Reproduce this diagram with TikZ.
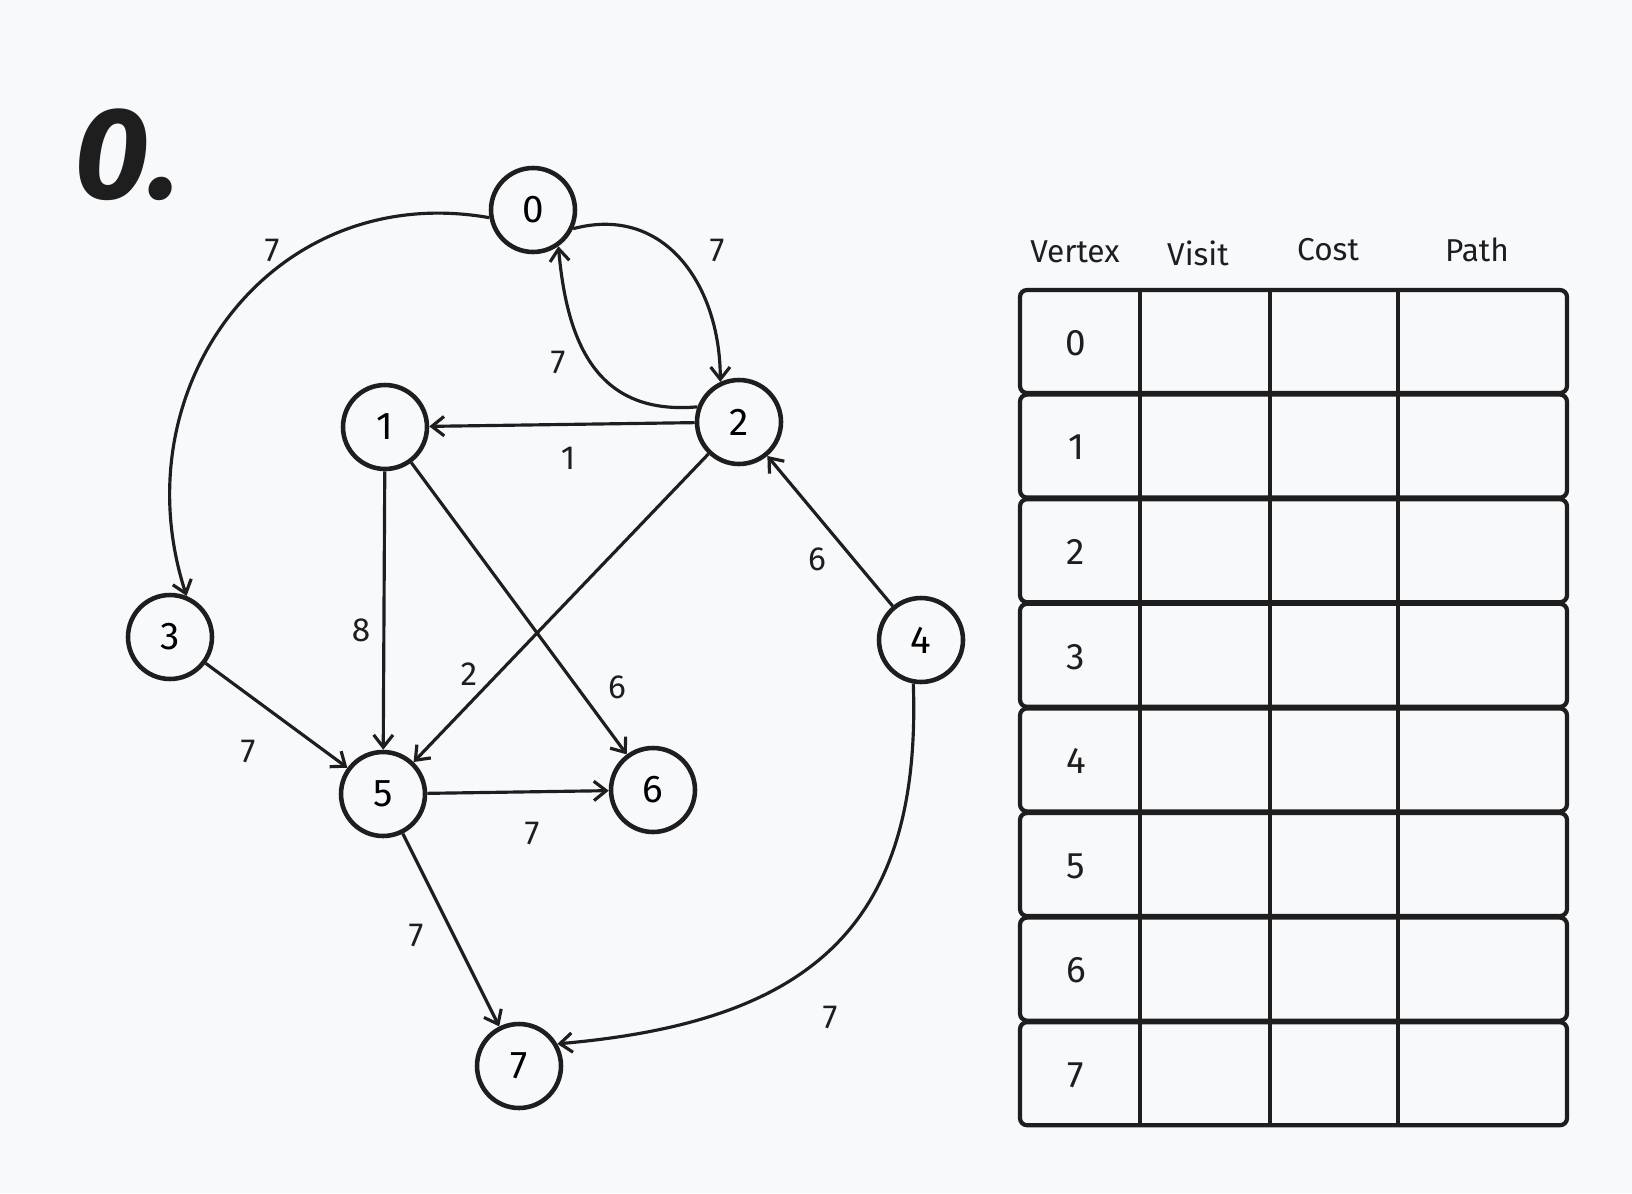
\documentclass[tikz,border=0pt]{standalone}
\usepackage{fontspec}
\setmainfont{Fira Sans}
\usetikzlibrary{arrows.meta, positioning}

\definecolor{inkc}{HTML}{1E1E1E}
\definecolor{paperc}{HTML}{F8F9FB}

\tikzset{
  vertex/.style={circle, draw=inkc, line width=2.6pt, minimum size=1.68cm, inner sep=0pt, font=\fontsize{22}{22}\selectfont},
  edge/.style={draw=inkc, line width=1.8pt, -{Straight Barb[length=7pt, width=11pt, line width=1.8pt]}},
  weight/.style={text=inkc, font=\fontsize{19}{19}\selectfont},
  heading/.style={text=inkc, font=\fontsize{18}{18}\selectfont},
  rowbox/.style={draw=inkc, line width=2.4pt, rounded corners=4pt},
  celltext/.style={text=inkc, font=\fontsize{21}{21}\selectfont}
}

\begin{document}
\begin{tikzpicture}[x=0.02cm, y=-0.02cm]
    % page
    \fill[paperc] (0,0) rectangle (1632,1193);
    \useasboundingbox (0,0) rectangle (1632,1193);

    % title
    \node[text=inkc, font=\fontsize{74}{74}\selectfont\bfseries\itshape] (title) at (127,155) {0.};

    % vertices
    \node[vertex] (n0) at (533,210) {0};
    \node[vertex] (n1) at (385,427) {1};
    \node[vertex] (n2) at (739,422) {2};
    \node[vertex] (n3) at (170,637) {3};
    \node[vertex] (n4) at (921,640) {4};
    \node[vertex] (n5) at (383,794) {5};
    \node[vertex] (n6) at (653,790) {6};
    \node[vertex] (n7) at (519,1066) {7};

    % curved edges
    \draw[edge] (n0.190) to[out=170, in=108, looseness=1.16] (n3.68);
    \draw[edge] (n0.-25) to[out=15, in=90, looseness=1.15] (n2.115);
    \draw[edge] (n2.160) to[out=185, in=-85, looseness=1.2] (n0.-55);
    \draw[edge] (n4.-100) to[out=-88, in=5, looseness=1.25] (n7.30);

    % straight edges
    \draw[edge] (n2) -- (n1);
    \draw[edge] (n1) -- (n5);
    \draw[edge] (n1) -- (n6);
    \draw[edge] (n2) -- (n5);
    \draw[edge] (n4) -- (n2);
    \draw[edge] (n3) -- (n5);
    \draw[edge] (n5) -- (n6);
    \draw[edge] (n5) -- (n7);

    % weights
    \node[weight] (w03) at (272,250) {7};
    \node[weight] (w02) at (717,250) {7};
    \node[weight] (w20) at (558,362) {7};
    \node[weight] (w21) at (568,458) {1};
    \node[weight] (w15) at (361,630) {8};
    \node[weight] (w16) at (617,687) {6};
    \node[weight] (w25) at (469,674) {2};
    \node[weight] (w42) at (817,559) {6};
    \node[weight] (w35) at (248,751) {7};
    \node[weight] (w56) at (532,833) {7};
    \node[weight] (w57) at (416,935) {7};
    \node[weight] (w47) at (830,1017) {7};

    % table header
    \node[heading] (hvertex) at (1075,252) {Vertex};
    \node[heading] (hvisit) at (1198,253) {Visit};
    \node[heading] (hcost) at (1328,250) {Cost};
    \node[heading] (hpath) at (1477,250) {Path};

    % table rows
    \foreach \i in {0,...,7} {
      \draw[rowbox] (1020,{290+104.6*\i}) rectangle (1567,{393+104.6*\i});
      \node[celltext] (row\i) at (1076,{343+104.6*\i}) {\i};
    }
    \foreach \cx in {1140,1270,1398}
      \draw[draw=inkc, line width=2.4pt] (\cx,290) -- (\cx,1126);
  \end{tikzpicture}
\end{document}
